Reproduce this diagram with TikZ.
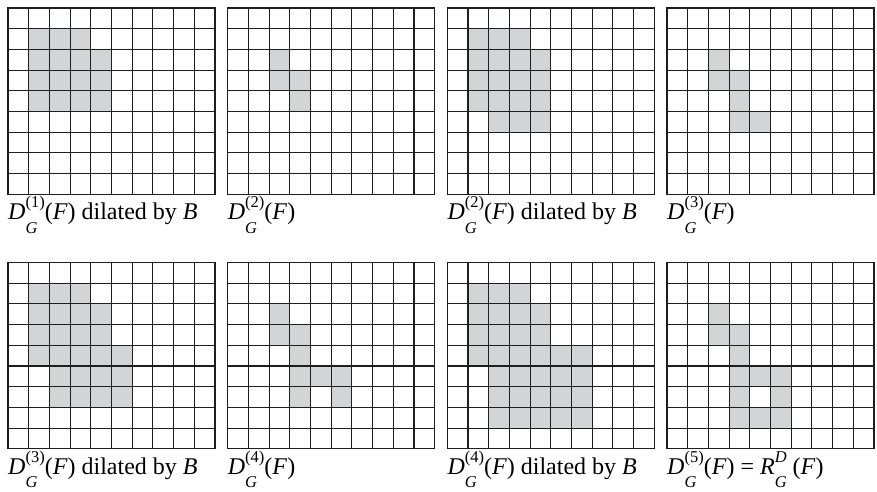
\documentclass[tikz,border=0pt]{standalone}
\usepackage{fontspec}
\setmainfont{Liberation Serif}
\definecolor{cellfill}{RGB}{211,212,214}
\definecolor{gridcol}{RGB}{30,30,30}
\tikzset{
  gridln/.style={draw=gridcol, line width=1.1pt, line cap=rect},
  cellbox/.style={fill=cellfill},
  lab/.style={anchor=base west, inner sep=0pt, font=\fontsize{24}{28}\selectfont}
}
\newcommand\cw{20.7}
\newcommand\supsub[2]{\rlap{\raisebox{-0.58em}{\fontsize{16.5}{17}\selectfont\itshape #2}}\raisebox{0.48em}{\fontsize{16.5}{17}\selectfont #1}}
\newcommand\Dlab[1]{\textit{D}\supsub{(#1)}{G}(\textit{F})}
\newcommand\mypanel[5]{%
\begin{scope}[shift={(#1,#2)}]
  \foreach \c/\r in {#3} \fill[cellbox] (\c*\cw,\r*\cw) rectangle ++(\cw,\cw);
  \foreach \i in {0,...,10} \draw[gridln] (\i*\cw,0) -- (\i*\cw,9*\cw);
  \foreach \j in {0,...,9} \draw[gridln] (0,\j*\cw) -- (10*\cw,\j*\cw);
  \node[lab] (#4) at (0,211.5) {#5};
\end{scope}}
\begin{document}
\begin{tikzpicture}[x=1pt,y=-1pt]
\useasboundingbox (0,0) rectangle (877,491);
% row 1
\mypanel{8}{8}{1/1,2/1,3/1,1/2,2/2,3/2,4/2,1/3,2/3,3/3,4/3,1/4,2/4,3/4,4/4}{l1}{\Dlab{1} dilated by \textit{B}}
\mypanel{227.7}{8}{2/2,2/3,3/3,3/4}{l2}{\Dlab{2}}
\mypanel{447.3}{8}{1/1,2/1,3/1,1/2,2/2,3/2,4/2,1/3,2/3,3/3,4/3,1/4,2/4,3/4,4/4,2/5,3/5,4/5}{l3}{\Dlab{2} dilated by \textit{B}}
\mypanel{667}{8}{2/2,2/3,3/3,3/4,3/5,4/5}{l4}{\Dlab{3}}
% row 2
\mypanel{8}{262.5}{1/1,2/1,3/1,1/2,2/2,3/2,4/2,1/3,2/3,3/3,4/3,1/4,2/4,3/4,4/4,5/4,2/5,3/5,4/5,5/5,2/6,3/6,4/6,5/6}{l5}{\Dlab{3} dilated by \textit{B}}
\mypanel{227.7}{262.5}{2/2,2/3,3/3,3/4,3/5,4/5,5/5,3/6,5/6}{l6}{\Dlab{4}}
\mypanel{447.3}{262.5}{1/1,2/1,3/1,1/2,2/2,3/2,4/2,1/3,2/3,3/3,4/3,1/4,2/4,3/4,4/4,5/4,6/4,2/5,3/5,4/5,5/5,6/5,2/6,3/6,4/6,5/6,6/6,2/7,3/7,4/7,5/7,6/7}{l7}{\Dlab{4} dilated by \textit{B}}
\mypanel{667}{262.5}{2/2,2/3,3/3,3/4,3/5,4/5,5/5,3/6,5/6,3/7,4/7,5/7}{l8}{\Dlab{5} = \textit{R}\supsub{\itshape D}{G} (\textit{F})}
\end{tikzpicture}
\end{document}
